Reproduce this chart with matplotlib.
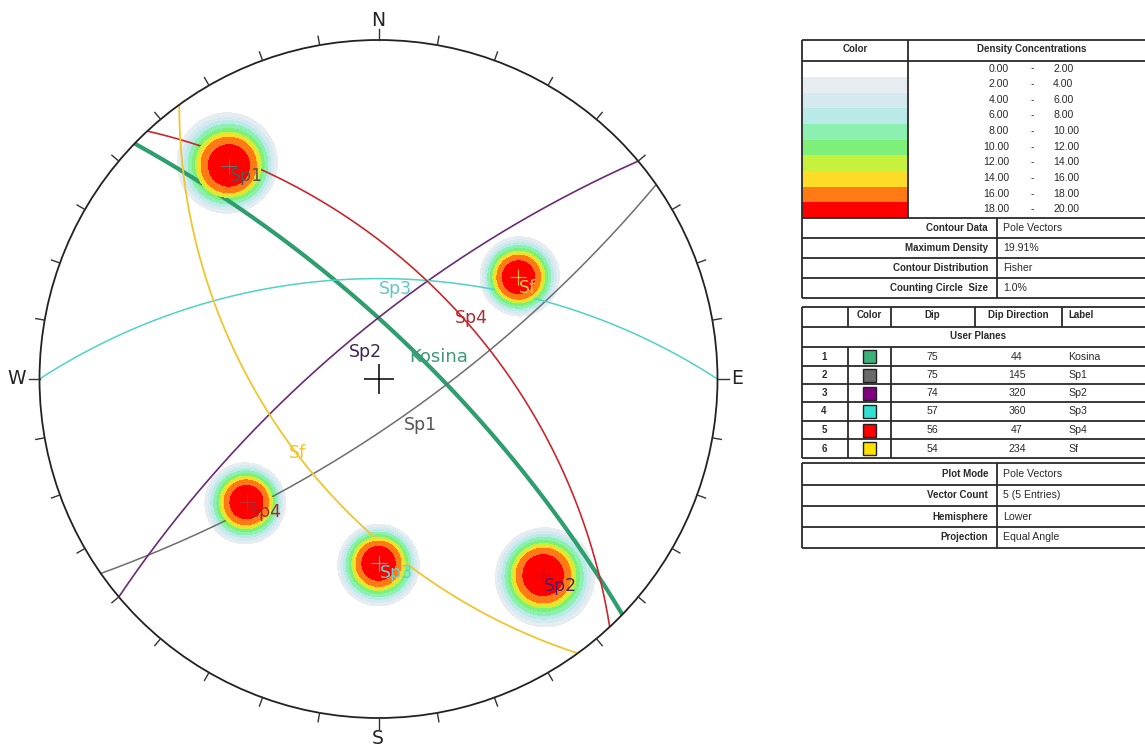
import numpy as np
import matplotlib
matplotlib.use("Agg")
import matplotlib.pyplot as plt
from matplotlib.patches import Circle, Rectangle

# ---- data ----
plane_labels = ["Kosina", "Sp1", "Sp2", "Sp3", "Sp4", "Sf"]
plane_dips = [75, 75, 74, 57, 56, 54]
plane_dirs = [44, 145, 320, 360, 47, 234]
plane_colors = ["#2F9E6E", "#6E6E6E", "#6A2A78", "#4FD2C8", "#C8282E", "#F0C52E"]
plane_widths = [3.0, 1.1, 1.2, 1.1, 1.2, 1.3]
swatch_colors = ["#3CB07A", "#6A6A6A", "#800080", "#30E0D0", "#FF0000", "#FFE000"]

density_edges = [0, 2, 4, 6, 8, 10, 12, 14, 16, 18, 20]
density_colors = ["#FFFFFF", "#E7ECF1", "#D5E9F0", "#B9EAE8", "#8CF0B0",
                  "#7EF07A", "#C6F23E", "#FFDC28", "#FF7A14", "#FF0000"]
# radial density profile around a pole (degrees from pole -> density, %)
profile_deg = [0.0, 4.4, 5.9, 6.5, 6.9, 7.6, 8.4, 9.1, 9.8, 10.6, 11.2]
profile_den = [19.91, 18, 16, 14, 12, 10, 8, 6, 4, 2, 0]

cardinals = ["N", "E", "S", "W"]
contour_info_k = ["Contour Data", "Maximum Density", "Contour Distribution", "Counting Circle  Size"]
contour_info_v = ["Pole Vectors", "19.91%", "Fisher", "1.0%"]
plot_info_k = ["Plot Mode", "Vector Count", "Hemisphere", "Projection"]
plot_info_v = ["Pole Vectors", "5 (5 Entries)", "Lower", "Equal Angle"]
pole_planes = ["Sp1", "Sp2", "Sp3", "Sp4", "Sf"]

# ---- layout (pixels) ----
W, H = 1145, 747
CX, CY, R = 378.5, 379.0, 339.0
fig = plt.figure(figsize=(W / 100, H / 100), dpi=100, facecolor="white")
ax = fig.add_axes([0, 0, 1, 1])
ax.set_xlim(0, W)
ax.set_ylim(H, 0)
ax.axis("off")
LBL = "DejaVu Sans"
TBL = "Liberation Sans"


def project(n, e, d):
    return CX + R * e / (1 + d), CY - R * n / (1 + d)


def pole_vec(dip, ddir):
    t, p = np.radians(ddir + 180), np.radians(90 - dip)
    return np.cos(p) * np.cos(t), np.cos(p) * np.sin(t), np.sin(p)


# density field
xs = np.arange(CX - R, CX + R + 1, 1.0)
ys = np.arange(CY - R, CY + R + 1, 1.0)
gx, gy = np.meshgrid(xs, ys)
ux, uy = (gx - CX) / R, (CY - gy) / R
rr = ux ** 2 + uy ** 2
dn, de, dd = 2 * uy / (1 + rr), 2 * ux / (1 + rr), (1 - rr) / (1 + rr)
field = np.zeros_like(gx)
for name in pole_planes:
    i = plane_labels.index(name)
    pn, pe, pd = pole_vec(plane_dips[i], plane_dirs[i])
    ang = np.degrees(np.arccos(np.clip(dn * pn + de * pe + dd * pd, -1, 1)))
    field = np.maximum(field, np.interp(ang, profile_deg, profile_den))
field = np.ma.masked_where(rr > 1, field)
# pale bands go under the planes, the strong bands hide them
ax.contourf(xs, ys, field, levels=density_edges[:7], colors=density_colors[:6], zorder=1)
ax.contourf(xs, ys, field, levels=density_edges[6:], colors=density_colors[6:], zorder=3.5)

# great circles
for lab, dip, ddir, col, lw in zip(plane_labels, plane_dips, plane_dirs, plane_colors, plane_widths):
    a, dl = np.radians(ddir), np.radians(dip)
    t = np.radians(np.linspace(0, 180, 361))
    sn, se = np.cos(a - np.pi / 2), np.sin(a - np.pi / 2)
    vn = np.cos(t) * sn + np.sin(t) * np.cos(dl) * np.cos(a)
    ve = np.cos(t) * se + np.sin(t) * np.cos(dl) * np.sin(a)
    vd = np.sin(t) * np.sin(dl)
    px, py = project(vn, ve, vd)
    ax.plot(px, py, color=col, lw=lw, zorder=3, solid_capstyle="butt")

# primitive circle and ticks
ax.add_patch(Circle((CX, CY), R, fill=False, ec="#222222", lw=1.3, zorder=4))
for az in range(0, 360, 10):
    s, c = np.sin(np.radians(az)), np.cos(np.radians(az))
    L = 11 if az % 90 == 0 else 9
    ax.plot([CX + R * s, CX + (R + L) * s], [CY - R * c, CY - (R + L) * c],
            color="#333333", lw=1.0, zorder=4)
for name, (tx_, ty_) in zip(cardinals, [(378, 21), (737, 379), (378, 738), (17, 379)]):
    ax.text(tx_, ty_, name, ha="center", va="center", fontsize=13.5, color="#222222", family=LBL)
ax.plot([CX], [CY], marker="+", ms=22, mew=1.1, color="black", zorder=5)

# poles and labels
pole_offsets = {"Sp1": (17, 10), "Sp2": (18, 11), "Sp3": (18, 10), "Sp4": (19, 10), "Sf": (9, 11)}
pole_text_col = {"Sp1": "#555555", "Sp2": "#4A2060", "Sp3": "#6CCFD0", "Sp4": "#A8262C", "Sf": "#F2D04A"}
for name in pole_planes:
    i = plane_labels.index(name)
    pn, pe, pd = pole_vec(plane_dips[i], plane_dirs[i])
    px, py = project(pn, pe, pd)
    ax.plot([px], [py], marker="+", ms=12, mew=0.8, color=plane_colors[i], zorder=5)
    ox, oy = pole_offsets[name]
    ax.text(px + ox, py + oy, name, ha="center", va="center", fontsize=12.5,
            color=pole_text_col[name], family=LBL, zorder=6)

plane_text_pos = {"Kosina": (439, 357), "Sp1": (420, 425), "Sp2": (365, 352),
                  "Sp3": (395, 289), "Sp4": (471, 318), "Sf": (297, 453)}
plane_text_col = {"Kosina": "#3D9A78", "Sp1": "#555555", "Sp2": "#3E2450",
                  "Sp3": "#62C8C4", "Sp4": "#B02A30", "Sf": "#F0C52E"}
for name, (tx_, ty_) in plane_text_pos.items():
    ax.text(tx_, ty_, name, ha="center", va="center", fontsize=13 if name == "Kosina" else 12.5,
            color=plane_text_col[name], family=LBL, zorder=6)

# ---- tables ----
LC = "#2a2a2a"
RIGHT = 1145


def hl(y, x0=802, x1=RIGHT, lw=1.3):
    ax.plot([x0, x1], [y, y], color=LC, lw=lw, zorder=8, solid_capstyle="butt")


def vl(x, y0, y1, lw=1.3):
    ax.plot([x, x], [y0, y1], color=LC, lw=lw, zorder=8, solid_capstyle="butt")


def tx(x, y, s, ha="center", bold=False):
    ax.text(x, y, s, ha=ha, va="center", fontsize=7.0 if bold else 7.6, family=TBL,
            fontweight="bold" if bold else "normal", color="#2a2a2a", zorder=9)


# density table
tx(855, 49, "Color", bold=True)
tx(1032, 49, "Density Concentrations", bold=True)
row_top = 61.5
row_h = 15.65
for k in range(10):
    y0 = row_top + k * row_h
    if k > 0:
        ax.add_patch(Rectangle((802, y0), 106, row_h, fc=density_colors[k], ec="none", zorder=2))
    lo, hi = density_edges[k], density_edges[k + 1]
    tx(1009, y0 + 7, f"{lo:.2f}", ha="right")
    tx(1032, y0 + 7, "-")
    tx(1053, y0 + 7, f"{hi:.2f}", ha="left")
hl(40)
hl(61)
hl(218)
vl(802, 40, 298)
vl(908, 40, 218)
info_y = [218, 238, 258, 278, 298]
for y in info_y[1:]:
    hl(y)
vl(997, 218, 298)
for k, (a, b) in enumerate(zip(contour_info_k, contour_info_v)):
    ym = (info_y[k] + info_y[k + 1]) / 2
    tx(988, ym, a, ha="right", bold=True)
    tx(1003, ym, b, ha="left")

# user planes table
hl(307)
hl(327)
hl(347)
row_lines = [347, 366, 384, 402, 421, 439, 458]
for y in row_lines[1:]:
    hl(y)
vl(802, 307, 458)
for x, y0, y1 in [(848, 307, 327), (891, 307, 327), (975, 307, 327), (1062, 307, 327),
                  (848, 347, 458), (891, 347, 458)]:
    vl(x, y0, y1)
tx(869, 315, "Color", bold=True)
tx(932, 315, "Dip", bold=True)
tx(1018, 315, "Dip Direction", bold=True)
tx(1068, 315, "Label", ha="left", bold=True)
tx(978, 336, "User Planes", bold=True)
for k, lab in enumerate(plane_labels):
    ym = (row_lines[k] + row_lines[k + 1]) / 2
    tx(824, ym, str(k + 1), bold=True)
    ax.add_patch(Rectangle((863, ym - 6.5), 12.5, 13, fc=swatch_colors[k], ec="#222222", lw=1.0, zorder=9))
    tx(932, ym, str(plane_dips[k]))
    tx(1017, ym, str(plane_dirs[k]))
    tx(1068, ym, lab, ha="left")

# plot info table
plot_y = [463, 485, 506, 527, 548]
for y in plot_y:
    hl(y)
vl(802, 463, 548)
vl(997, 463, 548)
for k, (a, b) in enumerate(zip(plot_info_k, plot_info_v)):
    ym = (plot_y[k] + plot_y[k + 1]) / 2
    tx(988, ym, a, ha="right", bold=True)
    tx(1003, ym, b, ha="left")

fig.savefig("out.png", dpi=100, facecolor="white")
